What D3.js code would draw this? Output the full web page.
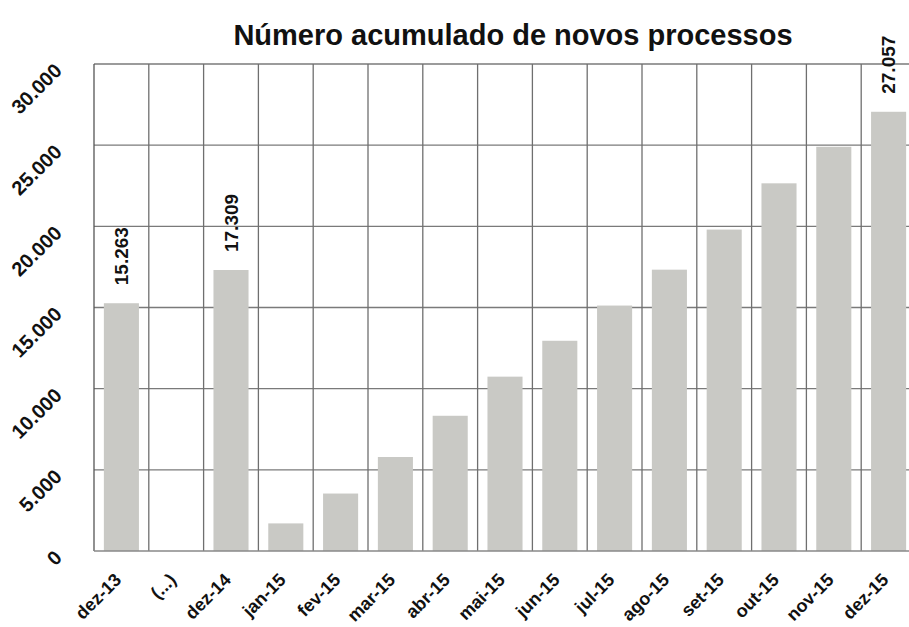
<!DOCTYPE html>
<html>
<head>
<meta charset="utf-8">
<script src="https://cdn.jsdelivr.net/npm/d3@7"></script>
<style>
  body { margin: 0; background: #fff; }
  text { font-family: "Liberation Sans", Arial, sans-serif; }
</style>
</head>
<body>
<script>
var categories = ["dez-13", "(...)", "dez-14", "jan-15", "fev-15", "mar-15", "abr-15", "mai-15", "jun-15", "jul-15", "ago-15", "set-15", "out-15", "nov-15", "dez-15"];
var values = [15263, 0, 17309, 1700, 3540, 5790, 8330, 10740, 12950, 15120, 17330, 19800, 22650, 24900, 27057];
var labelled = ["dez-13", "dez-14", "dez-15"];
var yTicks = [0, 5000, 10000, 15000, 20000, 25000, 30000];
var title = "Número acumulado de novos processos";

var width = 909,
  height = 627;

var plotLeft = 94, plotRight = 916, plotTop = 64, plotBottom = 551;

var pt = d3.formatLocale({ decimal: ",", thousands: ".", grouping: [3], currency: ["", ""] });
var fmt = pt.format(",d");

var svg = d3.select("body").append("svg")
  .attr("width", width)
  .attr("height", height);

var x = d3.scaleBand()
  .domain(categories)
  .range([plotLeft, plotRight])
  .paddingInner(0.36)
  .paddingOuter(0.18);

var y = d3.scaleLinear()
  .domain([0, 30000])
  .range([plotBottom, plotTop]);

// title
svg.append("text")
  .attr("x", 513)
  .attr("y", 45)
  .attr("text-anchor", "middle")
  .style("font-size", "29px")
  .style("font-weight", "bold")
  .style("fill", "#111")
  .text(title);

// horizontal grid
svg.append("g").selectAll("line")
  .data(yTicks.slice(1))
  .enter().append("line")
  .attr("x1", plotLeft)
  .attr("x2", plotRight)
  .attr("y1", function(d) { return y(d); })
  .attr("y2", function(d) { return y(d); })
  .style("stroke", "#7a7a7a")
  .style("stroke-width", "1.3px");

// vertical grid (category boundaries)
var step = x.step();
svg.append("g").selectAll("line")
  .data(categories)
  .enter().append("line")
  .attr("x1", function(d) { return x(d) - x.paddingOuter() * step + step; })
  .attr("x2", function(d) { return x(d) - x.paddingOuter() * step + step; })
  .attr("y1", plotTop)
  .attr("y2", plotBottom)
  .style("stroke", "#6f6f6f")
  .style("stroke-width", "1.3px");

// bars
svg.append("g").selectAll("rect")
  .data(values)
  .enter().append("rect")
  .attr("x", function(d, i) { return x(categories[i]); })
  .attr("width", x.bandwidth())
  .attr("y", function(d) { return y(d); })
  .attr("height", function(d) { return y(0) - y(d); })
  .style("fill", "#c9c9c5");

// axes lines
svg.append("line")
  .attr("x1", plotLeft).attr("x2", plotLeft)
  .attr("y1", plotTop).attr("y2", plotBottom)
  .style("stroke", "#555")
  .style("stroke-width", "1.3px");

svg.append("line")
  .attr("x1", plotLeft).attr("x2", plotRight)
  .attr("y1", plotBottom).attr("y2", plotBottom)
  .style("stroke", "#888")
  .style("stroke-width", "1.3px");

// y tick labels
svg.append("g").selectAll("text")
  .data(yTicks)
  .enter().append("text")
  .attr("transform", function(d) { return "translate(63," + (y(d) + 8) + ") rotate(-45)"; })
  .attr("text-anchor", "end")
  .style("font-size", "20px")
  .style("font-weight", "bold")
  .style("fill", "#111")
  .text(function(d) { return fmt(d); });

// x tick labels
svg.append("g").selectAll("text")
  .data(categories)
  .enter().append("text")
  .attr("transform", function(d) { return "translate(" + (x(d) + x.bandwidth() / 2 + 1) + ",581) rotate(-45)"; })
  .attr("text-anchor", "end")
  .style("font-size", "18px")
  .style("font-weight", "bold")
  .style("fill", "#111")
  .text(function(d) { return d; });

// value labels
svg.append("g").selectAll("text")
  .data(categories.filter(function(c) { return labelled.indexOf(c) >= 0; }))
  .enter().append("text")
  .attr("transform", function(d) {
    var v = values[categories.indexOf(d)];
    return "translate(" + (x(d) + x.bandwidth() / 2) + "," + (y(v) - 18) + ") rotate(-90)";
  })
  .attr("dy", "0.35em")
  .attr("text-anchor", "start")
  .style("font-size", "19px")
  .style("font-weight", "bold")
  .style("fill", "#111")
  .text(function(d) { return fmt(values[categories.indexOf(d)]); });
</script>
</body>
</html>
